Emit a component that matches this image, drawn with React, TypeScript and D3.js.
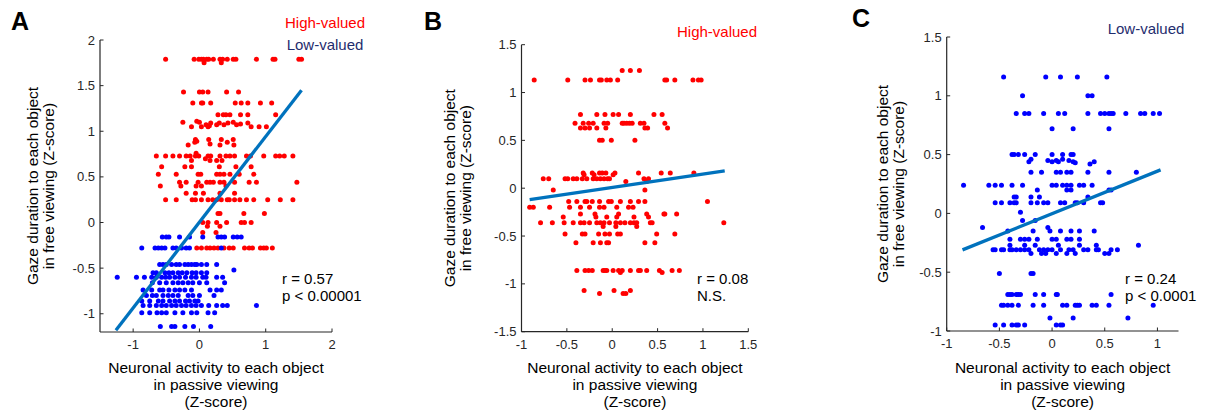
import React from "react";
import * as d3 from "d3";

type Pt = [number, number];

// ---- Panel A: high-valued (red) and low-valued (blue) objects
const aHigh: Pt[] = [
  [-0.51, 1.79], [-0.08, 1.79], [-0.01, 1.79], [0.03, 1.79], [0.06, 1.79], [0.11, 1.79], [0.14, 1.79],
  [0.21, 1.79], [0.31, 1.79], [0.35, 1.79], [0.42, 1.79], [0.51, 1.79], [0.55, 1.79], [0.86, 1.79],
  [1.11, 1.79], [1.14, 1.79], [1.5, 1.79], [1.54, 1.79], [0.07, 1.75], [0.33, 1.75],
  [-0.24, 1.43], [0.0, 1.43], [0.05, 1.43], [0.13, 1.43], [0.41, 1.43], [0.59, 1.43],
  [-0.1, 1.31], [0.03, 1.31], [0.05, 1.31], [0.17, 1.31], [0.54, 1.31], [0.63, 1.31], [0.73, 1.31],
  [0.92, 1.31], [1.09, 1.31],
  [0.28, 1.18], [0.36, 1.18], [0.4, 1.18], [0.46, 1.18], [0.62, 1.18], [0.73, 1.18], [1.15, 1.18],
  [-0.25, 1.1], [-0.12, 1.05], [-0.04, 1.11], [0.0, 1.1], [0.03, 1.05], [0.1, 1.07], [0.13, 1.05],
  [0.15, 1.06], [0.17, 1.09], [0.26, 1.07], [0.3, 1.09], [0.37, 1.07], [0.43, 1.09], [0.51, 1.1],
  [0.56, 1.07], [0.62, 1.08], [0.73, 1.09], [0.78, 1.05], [0.9, 1.05], [1.01, 1.05],
  [-0.06, 0.91], [0.14, 0.91], [0.33, 0.91], [0.51, 0.91],
  [-0.17, 0.85], [-0.07, 0.88], [-0.04, 0.89], [0.16, 0.86], [0.31, 0.85], [0.42, 0.88], [0.52, 0.85],
  [-0.65, 0.73], [-0.51, 0.73], [-0.4, 0.73], [-0.3, 0.73], [-0.2, 0.73], [-0.14, 0.73], [-0.06, 0.73],
  [-0.01, 0.73], [0.13, 0.73], [0.17, 0.73], [0.31, 0.73], [0.4, 0.73], [0.46, 0.73], [0.53, 0.73],
  [0.71, 0.73], [0.77, 0.73], [0.97, 0.73], [1.15, 0.73], [1.21, 0.73], [1.28, 0.73], [1.41, 0.73],
  [-0.05, 0.76], [0.09, 0.7], [0.16, 0.68], [0.26, 0.68], [0.34, 0.68], [-0.12, 0.68],
  [-0.57, 0.61], [-0.22, 0.61], [-0.12, 0.61], [0.3, 0.61], [0.55, 0.61], [0.78, 0.61],
  [-0.62, 0.53], [-0.35, 0.53], [-0.02, 0.53], [0.02, 0.53], [0.26, 0.53], [0.31, 0.53], [0.37, 0.53],
  [0.46, 0.53], [0.6, 0.53], [0.82, 0.53],
  [-0.3, 0.44], [-0.2, 0.44], [-0.02, 0.44], [0.11, 0.44], [0.16, 0.44], [0.21, 0.44], [0.31, 0.44],
  [0.37, 0.44], [0.53, 0.44], [0.75, 0.44], [0.86, 0.44], [1.47, 0.44],
  [-0.59, 0.4], [-0.28, 0.4], [-0.05, 0.4], [0.03, 0.4], [0.4, 0.4],
  [-0.2, 0.32], [-0.06, 0.32], [0.06, 0.32], [0.31, 0.32], [0.53, 0.32],
  [-0.51, 0.25], [-0.35, 0.25], [-0.11, 0.25], [-0.06, 0.25], [0.03, 0.25], [0.13, 0.25], [0.2, 0.25],
  [0.26, 0.25], [0.33, 0.25], [0.42, 0.25], [0.45, 0.25], [0.53, 0.25], [0.61, 0.25], [0.71, 0.25],
  [0.82, 0.25], [1.03, 0.25], [1.22, 0.25], [1.41, 0.25],
  [0.28, 0.1], [0.31, 0.1], [0.67, 0.1], [0.98, 0.1],
  [0.05, 0.0], [0.13, 0.0], [0.26, 0.0], [0.41, 0.0], [0.63, 0.0], [0.68, 0.0], [0.78, 0.0],
  [0.12, -0.04], [0.31, -0.04], [0.05, -0.11], [0.25, -0.11],
  [-0.04, -0.28], [0.03, -0.28], [0.11, -0.28], [0.16, -0.28], [0.22, -0.28], [0.28, -0.28],
  [0.37, -0.28], [0.45, -0.28], [0.51, -0.28], [0.68, -0.28], [0.75, -0.28], [0.8, -0.28],
  [0.92, -0.28], [0.97, -0.28], [1.01, -0.28], [1.1, -0.28],
];

const aLow: Pt[] = [
  [-0.56, -0.16], [-0.5, -0.16], [-0.46, -0.16], [-0.3, -0.16], [-0.15, -0.16], [0.05, -0.16],
  [0.28, -0.16], [0.33, -0.16], [0.38, -0.16], [0.51, -0.16], [0.57, -0.16], [0.63, -0.16],
  [-0.87, -0.28], [-0.67, -0.28], [-0.62, -0.28], [-0.57, -0.28], [-0.52, -0.28], [-0.4, -0.28],
  [-0.35, -0.28], [-0.27, -0.28], [-0.2, -0.28], [-0.15, -0.28], [0.33, -0.28],
  [-0.6, -0.46], [-0.55, -0.46], [-0.5, -0.46], [-0.42, -0.46], [-0.35, -0.46], [-0.3, -0.46],
  [-0.22, -0.46], [-0.17, -0.46], [-0.12, -0.46], [-0.07, -0.46], [-0.04, -0.46], [0.03, -0.46],
  [0.11, -0.46], [0.26, -0.46], [0.52, -0.52],
  [-0.7, -0.55], [-0.65, -0.55], [-0.52, -0.55], [-0.46, -0.55], [-0.4, -0.55], [-0.32, -0.55],
  [-0.26, -0.55], [-0.19, -0.55], [-0.11, -0.55], [-0.05, -0.55], [0.03, -0.55], [0.11, -0.55],
  [-1.24, -0.6], [-0.95, -0.6], [-0.83, -0.6], [-0.72, -0.6], [-0.65, -0.6], [-0.57, -0.6],
  [-0.51, -0.6], [-0.45, -0.6], [-0.37, -0.6], [-0.3, -0.6], [-0.21, -0.6], [-0.12, -0.6],
  [-0.05, -0.6], [0.05, -0.6], [0.1, -0.6], [0.26, -0.6], [0.35, -0.6],
  [-0.71, -0.66], [-0.6, -0.66], [-0.5, -0.66], [-0.4, -0.66], [-0.32, -0.66], [-0.25, -0.66],
  [-0.17, -0.66], [-0.1, -0.66], [0.0, -0.66], [0.11, -0.66], [0.38, -0.66],
  [-0.85, -0.74], [-0.72, -0.74], [-0.6, -0.74], [-0.55, -0.74], [-0.46, -0.74], [-0.37, -0.74],
  [-0.3, -0.74], [-0.22, -0.74], [-0.12, -0.74], [0.16, -0.74], [0.26, -0.74], [0.33, -0.74],
  [-0.8, -0.8], [-0.71, -0.8], [-0.65, -0.8], [-0.55, -0.8], [-0.47, -0.8], [-0.4, -0.8],
  [-0.32, -0.8], [-0.17, -0.8], [-0.1, -0.8], [0.0, -0.8], [0.22, -0.8],
  [-0.87, -0.86], [-0.75, -0.86], [-0.62, -0.86], [-0.55, -0.86], [-0.45, -0.86], [-0.37, -0.86],
  [-0.3, -0.86], [-0.21, -0.86], [-0.15, -0.86], [-0.07, -0.86], [-0.02, -0.86],
  [-0.85, -0.91], [-0.75, -0.91], [-0.65, -0.91], [-0.57, -0.91], [-0.5, -0.91], [-0.42, -0.91],
  [-0.35, -0.91], [-0.27, -0.91], [-0.2, -0.91], [-0.12, -0.91], [-0.05, -0.91], [0.03, -0.91],
  [0.14, -0.91], [0.26, -0.91], [0.35, -0.91], [0.42, -0.91], [0.86, -0.91],
  [-0.87, -0.99], [-0.75, -0.99], [-0.64, -0.99], [-0.57, -0.99], [-0.5, -0.99], [-0.37, -0.99],
  [-0.25, -0.99], [-0.12, -0.99], [-0.04, -0.99], [0.13, -0.99], [0.23, -0.99],
  [-0.59, -1.14], [-0.42, -1.14], [-0.37, -1.14], [-0.22, -1.14], [-0.09, -1.14], [0.17, -1.14],
];

// ---- Panel B: high-valued objects only
const bHigh: Pt[] = [
  [-0.86, 1.13], [-0.49, 1.13], [-0.3, 1.13], [-0.24, 1.13], [-0.14, 1.13], [-0.12, 1.13], [-0.06, 1.13],
  [-0.02, 1.13], [0.06, 1.13], [0.58, 1.13], [0.6, 1.13], [0.69, 1.13], [0.89, 1.13], [0.95, 1.13],
  [0.98, 1.13], [0.11, 1.23], [0.2, 1.23], [0.3, 1.23],
  [-0.35, 0.77], [-0.17, 0.77], [-0.08, 0.77], [0.01, 0.77], [0.07, 0.77], [0.2, 0.77], [0.46, 0.77],
  [0.55, 0.77],
  [-0.41, 0.68], [-0.32, 0.68], [-0.26, 0.68], [-0.21, 0.68], [-0.09, 0.68], [-0.05, 0.68], [0.11, 0.68],
  [0.13, 0.68], [0.16, 0.68], [0.19, 0.68], [0.22, 0.68], [0.31, 0.68], [0.35, 0.68], [0.58, 0.68],
  [-0.35, 0.63], [-0.3, 0.63], [-0.25, 0.63], [-0.17, 0.63], [-0.07, 0.63], [0.36, 0.63], [0.39, 0.63],
  [0.61, 0.63],
  [-0.14, 0.5], [-0.11, 0.5], [-0.01, 0.5], [0.25, 0.5],
  [-0.32, 0.16], [-0.22, 0.16], [-0.14, 0.16], [-0.11, 0.16], [-0.07, 0.16], [0.03, 0.16], [0.29, 0.16],
  [0.54, 0.16], [0.64, 0.16], [0.9, 0.16], [-0.31, 0.14], [-0.2, 0.14], [0.01, 0.14],
  [-0.76, 0.1], [-0.7, 0.1], [-0.52, 0.1], [-0.49, 0.1], [-0.43, 0.1], [-0.39, 0.1], [-0.33, 0.1],
  [-0.28, 0.1], [-0.21, 0.1], [-0.17, 0.1], [-0.13, 0.1], [-0.09, 0.1], [-0.05, 0.1], [-0.03, 0.1],
  [0.35, 0.1], [0.4, 0.1], [0.15, 0.07], [0.38, 0.07], [-0.65, -0.02], [0.36, -0.02],
  [-0.48, -0.14], [-0.39, -0.14], [-0.3, -0.14], [-0.28, -0.14], [-0.22, -0.14], [-0.14, -0.14],
  [-0.04, -0.14], [-0.01, -0.14], [0.09, -0.14], [0.2, -0.14], [0.29, -0.14], [0.36, -0.14], [1.05, -0.14],
  [-0.91, -0.2], [-0.87, -0.2], [-0.69, -0.2], [-0.47, -0.2], [-0.35, -0.2], [-0.25, -0.2], [-0.14, -0.2],
  [-0.09, -0.2], [0.05, -0.2], [0.18, -0.2], [0.23, -0.2],
  [-0.35, -0.27], [-0.19, -0.27], [0.07, -0.27], [0.38, -0.27], [0.57, -0.27], [0.58, -0.27], [0.71, -0.27],
  [-0.54, -0.3], [-0.18, -0.3], [-0.06, -0.3], [0.05, -0.3], [0.24, -0.3], [0.4, -0.3],
  [-0.79, -0.36], [-0.66, -0.36], [-0.53, -0.36], [-0.43, -0.36], [-0.35, -0.36], [-0.31, -0.36],
  [-0.25, -0.36], [-0.17, -0.36], [-0.13, -0.36], [-0.09, -0.36], [-0.03, -0.36], [0.04, -0.36],
  [0.09, -0.36], [0.14, -0.36], [0.2, -0.36], [0.24, -0.36], [0.27, -0.36], [0.42, -0.36],
  [0.44, -0.36], [1.23, -0.36],
  [-0.1, -0.4], [0.04, -0.4], [0.27, -0.4],
  [-0.52, -0.48], [-0.33, -0.48], [-0.3, -0.48], [-0.15, -0.48], [-0.08, -0.48], [-0.03, -0.48],
  [0.06, -0.48], [0.09, -0.48], [0.49, -0.48], [0.69, -0.48],
  [-0.4, -0.57], [-0.21, -0.57], [-0.13, -0.57], [-0.06, -0.57], [-0.04, -0.57], [0.36, -0.57], [0.47, -0.57],
  [-0.39, -0.86], [-0.3, -0.86], [-0.26, -0.86], [-0.22, -0.86], [-0.1, -0.86], [-0.08, -0.86],
  [-0.06, -0.86], [0.01, -0.86], [0.07, -0.86], [0.11, -0.86], [0.2, -0.86], [0.29, -0.86],
  [0.31, -0.86], [0.38, -0.86], [0.52, -0.86], [0.66, -0.86], [0.74, -0.86], [0.09, -0.88], [0.55, -0.88],
  [-0.31, -1.07], [-0.14, -1.1], [0.02, -1.07], [0.12, -1.1], [0.15, -1.1], [0.2, -1.07],
];

// ---- Panel C: low-valued objects only
const cLow: Pt[] = [
  [-0.46, 1.16], [-0.06, 1.16], [0.08, 1.16], [0.24, 1.16], [0.52, 1.16],
  [-0.28, 1.0], [0.34, 1.0], [0.38, 1.0],
  [-0.34, 0.85], [-0.26, 0.85], [-0.22, 0.85], [-0.08, 0.85], [0.06, 0.85], [0.12, 0.85], [0.34, 0.85],
  [0.46, 0.85], [0.5, 0.85], [0.54, 0.85], [0.56, 0.85], [0.58, 0.85], [0.7, 0.85], [0.84, 0.85],
  [0.88, 0.85], [0.96, 0.85], [1.02, 0.85],
  [0.0, 0.72], [0.2, 0.72], [0.54, 0.72],
  [-0.38, 0.5], [-0.36, 0.5], [-0.32, 0.5], [-0.26, 0.5], [-0.16, 0.5], [0.0, 0.5], [0.1, 0.5],
  [0.18, 0.5], [0.2, 0.5],
  [-0.22, 0.44], [-0.2, 0.46], [-0.04, 0.45], [0.0, 0.44], [0.04, 0.45], [0.06, 0.44], [0.1, 0.46],
  [0.16, 0.45], [0.2, 0.44], [0.22, 0.43], [0.36, 0.42], [0.4, 0.44],
  [-0.2, 0.35], [-0.1, 0.35], [0.04, 0.35], [0.08, 0.35], [0.14, 0.35], [0.18, 0.35], [0.34, 0.35],
  [0.54, 0.35], [0.8, 0.35],
  [-0.84, 0.24], [-0.6, 0.24], [-0.54, 0.24], [-0.48, 0.24], [-0.38, 0.24], [-0.28, 0.24], [0.0, 0.24],
  [0.04, 0.24], [0.1, 0.24], [0.14, 0.24], [0.18, 0.24], [0.26, 0.24], [0.3, 0.24], [0.38, 0.24],
  [-0.14, 0.2], [0.14, 0.2], [0.18, 0.2], [0.54, 0.2], [0.56, 0.2],
  [-0.36, 0.14], [-0.34, 0.14], [-0.2, 0.14], [-0.12, 0.14], [0.34, 0.14],
  [-0.54, 0.09], [-0.48, 0.09], [-0.4, 0.09], [-0.36, 0.09], [-0.34, 0.09], [-0.2, 0.09], [-0.14, 0.09],
  [-0.08, 0.09], [-0.04, 0.09], [0.08, 0.09], [0.12, 0.09], [0.22, 0.09], [0.24, 0.09], [0.3, 0.09],
  [0.46, 0.09], [0.48, 0.09],
  [-0.3, 0.01], [-0.28, -0.06], [-0.16, -0.06], [-0.66, -0.12], [-0.04, -0.12],
  [-0.42, -0.15], [-0.18, -0.15], [-0.02, -0.15], [0.08, -0.15], [0.18, -0.15], [0.26, -0.15], [0.4, -0.15],
  [-0.4, -0.22], [-0.3, -0.22], [-0.26, -0.22], [-0.22, -0.22], [-0.14, -0.22], [0.0, -0.22],
  [0.04, -0.22], [0.14, -0.22], [0.18, -0.22], [0.26, -0.22],
  [-0.4, -0.27], [-0.26, -0.27], [-0.16, -0.27], [0.06, -0.27], [0.26, -0.27], [0.42, -0.27], [0.82, -0.27],
  [-0.56, -0.31], [-0.54, -0.31], [-0.48, -0.31], [-0.46, -0.31], [-0.4, -0.31], [-0.38, -0.31],
  [-0.34, -0.31], [-0.3, -0.31], [-0.26, -0.31], [-0.22, -0.31], [-0.12, -0.31], [-0.08, -0.31],
  [-0.04, -0.31], [0.0, -0.31], [0.08, -0.31], [0.16, -0.31], [0.2, -0.31], [0.3, -0.31], [0.34, -0.31],
  [0.42, -0.31], [0.44, -0.31], [0.56, -0.31], [0.62, -0.31],
  [-0.2, -0.34], [-0.1, -0.34], [-0.06, -0.34], [0.04, -0.34], [0.14, -0.34], [0.22, -0.34], [0.5, -0.34],
  [0.54, -0.34],
  [-0.5, -0.51], [-0.2, -0.51], [-0.18, -0.51],
  [-0.42, -0.69], [-0.4, -0.69], [-0.38, -0.69], [-0.34, -0.69], [-0.32, -0.69], [-0.3, -0.69],
  [-0.16, -0.69], [-0.08, -0.69], [0.04, -0.69], [0.05, -0.69], [0.56, -0.69],
  [-0.48, -0.78], [-0.46, -0.78], [-0.42, -0.78], [-0.38, -0.78], [-0.32, -0.78], [-0.18, -0.78],
  [-0.08, -0.78], [0.1, -0.78], [0.14, -0.78], [0.22, -0.78], [0.24, -0.78], [0.26, -0.78],
  [0.38, -0.78], [0.42, -0.78], [0.54, -0.78], [0.96, -0.78],
  [-0.02, -0.89], [0.2, -0.89], [0.72, -0.89],
  [-0.54, -0.95], [-0.46, -0.95], [-0.38, -0.95], [-0.34, -0.95], [-0.32, -0.95], [-0.26, -0.95],
  [0.04, -0.95], [0.08, -0.95], [0.1, -0.95],
];

// regression line end points [x0, y0, x1, y1]
const aFit = [-1.26, -1.18, 1.54, 1.45];
const bFit = [-0.91, -0.12, 1.24, 0.18];
const cFit = [-0.85, -0.31, 1.03, 0.37];

const aXTicks = [-1, 0, 1, 2];
const aYTicks = [-1, -0.5, 0, 0.5, 1, 1.5, 2];
const bXTicks = [-1, -0.5, 0, 0.5, 1, 1.5];
const bYTicks = [-1.5, -1, -0.5, 0, 0.5, 1, 1.5];
const cXTicks = [-1, -0.5, 0, 0.5, 1];
const cYTicks = [-1, -0.5, 0, 0.5, 1, 1.5];

const RED = "#ff0000";
const BLUE = "#0000ff";
const NAVY = "#1f2d6e";
const FIT = "#0072bd";
const AX = "#262626";
const FONT = "'Liberation Sans', Arial, Helvetica, sans-serif";

type Legend = { text: string; color: string; x: number; y: number };

type PanelProps = {
  letter: string;
  letterX: number;
  letterY: number;
  xDomain: [number, number];
  yDomain: [number, number];
  left: number;
  right: number;
  top: number;
  bottom: number;
  xTicks: number[];
  yTicks: number[];
  series: { pts: Pt[]; color: string }[];
  fit: number[];
  legends: Legend[];
  stats: string[];
  statsX: number;
  yLabelX: number;
};

function Panel(p: PanelProps) {
  const x = d3.scaleLinear().domain(p.xDomain).range([p.left, p.right]);
  const y = d3.scaleLinear().domain(p.yDomain).range([p.bottom, p.top]);
  const line = d3.line<Pt>().x((d) => x(d[0])).y((d) => y(d[1]));
  const fitPts: Pt[] = [
    [p.fit[0], p.fit[1]],
    [p.fit[2], p.fit[3]],
  ];
  const cx = (p.left + p.right) / 2;
  const cy = (p.top + p.bottom) / 2;

  return (
    <g fontFamily={FONT}>
      <text x={p.letterX} y={p.letterY} fontSize={25} fontWeight="bold" fill="#000">
        {p.letter}
      </text>
      {p.legends.map((l) => (
        <text key={l.text} x={l.x} y={l.y} fontSize={15} fill={l.color} textAnchor="middle">
          {l.text}
        </text>
      ))}

      {p.series.map((s, i) => (
        <g key={i} fill={s.color}>
          {s.pts.map((d, j) => (
            <circle key={j} cx={x(d[0])} cy={y(d[1])} r={2.5} />
          ))}
        </g>
      ))}
      <path d={line(fitPts) ?? ""} stroke={FIT} strokeWidth={3.3} fill="none" />

      {/* axes */}
      <line x1={p.left} x2={p.left} y1={p.top} y2={p.bottom} stroke={AX} strokeWidth={1.2} />
      <line x1={p.left} x2={p.right} y1={p.bottom} y2={p.bottom} stroke={AX} strokeWidth={1.2} />
      {p.yTicks.map((t) => (
        <g key={"y" + t}>
          <line x1={p.left} x2={p.left + 3.5} y1={y(t)} y2={y(t)} stroke={AX} />
          <text x={p.left - 5} y={y(t) + 4.5} fontSize={13} fill={AX} textAnchor="end">
            {String(t)}
          </text>
        </g>
      ))}
      {p.xTicks.map((t) => (
        <g key={"x" + t}>
          <line x1={x(t)} x2={x(t)} y1={p.bottom} y2={p.bottom - 3.5} stroke={AX} />
          <text x={x(t)} y={p.bottom + 17} fontSize={13} fill={AX} textAnchor="middle">
            {String(t)}
          </text>
        </g>
      ))}

      {/* axis titles */}
      <text textAnchor="middle" fontSize={15.5} fill="#000">
        <tspan x={cx} y={373}>Neuronal activity to each object</tspan>
        <tspan x={cx} y={390}>in passive viewing</tspan>
        <tspan x={cx} y={407}>(Z-score)</tspan>
      </text>
      <text
        transform={`translate(${p.yLabelX},${cy}) rotate(-90)`}
        textAnchor="middle"
        fontSize={15.5}
        fill="#000"
      >
        <tspan x={0} y={0}>Gaze duration to each object</tspan>
        <tspan x={0} y={16}>in free viewing (Z-score)</tspan>
      </text>

      <text fontSize={15} fill="#000">
        {p.stats.map((s, i) => (
          <tspan key={i} x={p.statsX} y={284 + i * 16.5}>
            {s}
          </tspan>
        ))}
      </text>
    </g>
  );
}

export default function App() {
  return (
    <div style={{ position: "absolute", left: 0, top: 0 }}>
      <svg width={1205} height={416} style={{ display: "block", background: "#fff" }}>
        <Panel
          letter="A"
          letterX={11}
          letterY={30}
          xDomain={[-1.5, 2]}
          yDomain={[-1.2, 2]}
          left={100}
          right={332}
          top={40}
          bottom={332}
          xTicks={aXTicks}
          yTicks={aYTicks}
          series={[
            { pts: aHigh, color: RED },
            { pts: aLow, color: BLUE },
          ]}
          fit={aFit}
          legends={[
            { text: "High-valued", color: RED, x: 325, y: 28 },
            { text: "Low-valued", color: NAVY, x: 325, y: 50 },
          ]}
          stats={["r = 0.57", "p < 0.00001"]}
          statsX={282}
          yLabelX={38}
        />
        <Panel
          letter="B"
          letterX={424}
          letterY={30}
          xDomain={[-1, 1.5]}
          yDomain={[-1.5, 1.5]}
          left={521.5}
          right={748.3}
          top={44.7}
          bottom={331.7}
          xTicks={bXTicks}
          yTicks={bYTicks}
          series={[{ pts: bHigh, color: RED }]}
          fit={bFit}
          legends={[{ text: "High-valued", color: RED, x: 717, y: 37 }]}
          stats={["r = 0.08", "N.S."]}
          statsX={697}
          yLabelX={455}
        />
        <Panel
          letter="C"
          letterX={852}
          letterY={27}
          xDomain={[-1, 1.2]}
          yDomain={[-1, 1.5]}
          left={946.7}
          right={1178.5}
          top={37}
          bottom={331}
          xTicks={cXTicks}
          yTicks={cYTicks}
          series={[{ pts: cLow, color: BLUE }]}
          fit={cFit}
          legends={[{ text: "Low-valued", color: NAVY, x: 1146, y: 34 }]}
          stats={["r = 0.24", "p < 0.0001"]}
          statsX={1125}
          yLabelX={888}
        />
      </svg>
    </div>
  );
}
